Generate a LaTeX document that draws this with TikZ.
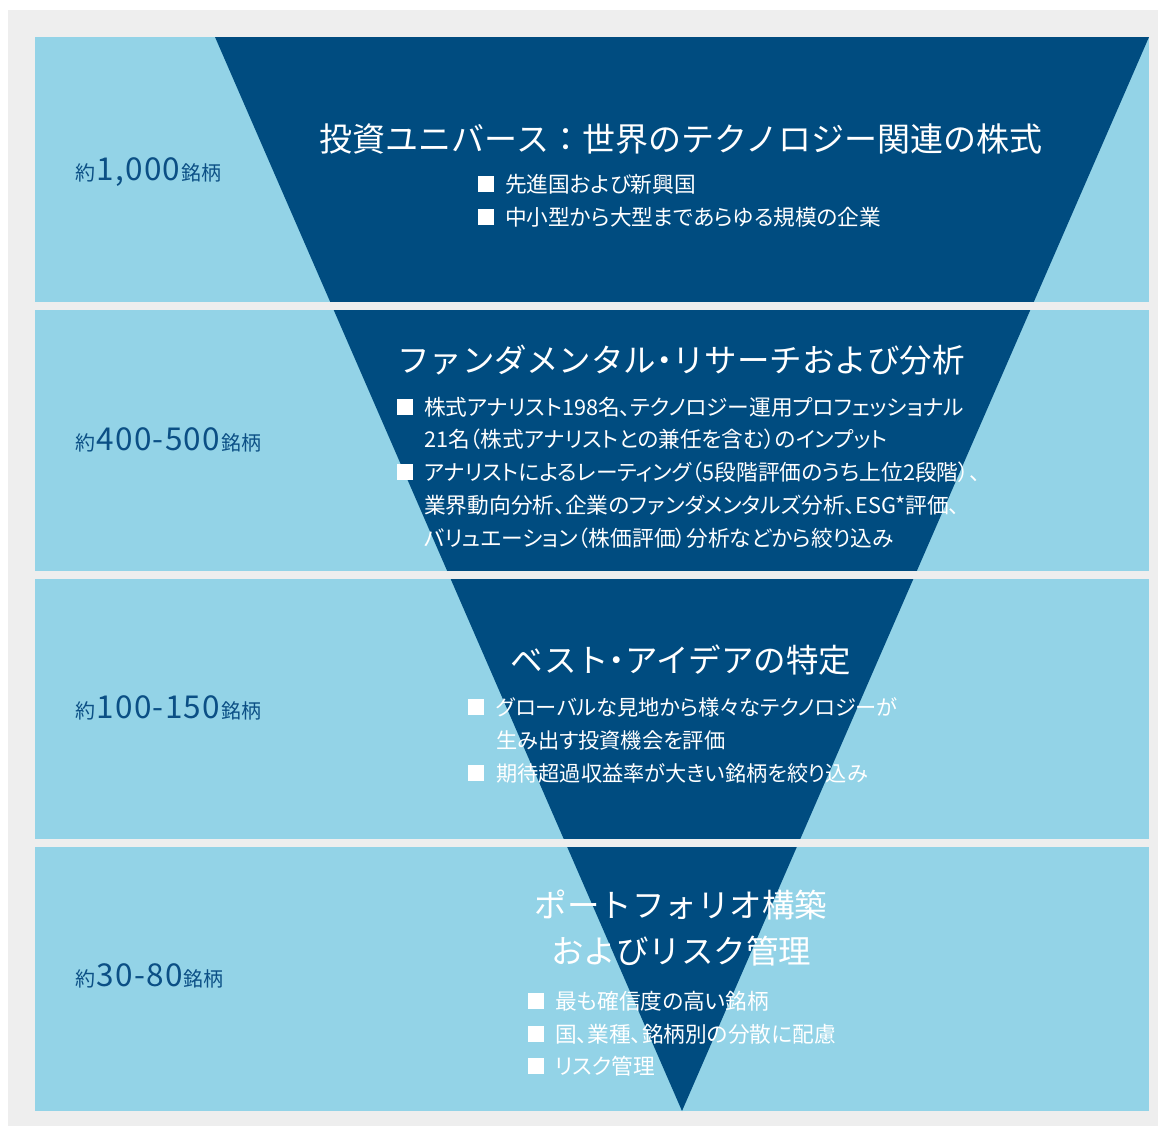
\documentclass[tikz,border=0pt]{standalone}
\usepackage{fontspec}
\setmainfont{Noto Sans CJK JP}
\newfontfamily\paltfont[RawFeature={+palt}]{Noto Sans CJK JP}
\newfontfamily\numfont[LetterSpace=4]{Noto Sans CJK JP}
\definecolor{panelgray}{HTML}{EEEEEE}
\definecolor{lightband}{HTML}{93D3E7}
\definecolor{darktri}{HTML}{004C80}
\definecolor{labelblue}{HTML}{0B4F85}
\tikzset{
  titletext/.style={text=white, inner sep=0pt, font=\fontsize{32.5}{46}\selectfont, text height=28.6pt, text depth=3.9pt},
  bigtitle/.style={titletext, font=\fontsize{33}{46}\selectfont, text height=29pt, text depth=4pt},
  bullettext/.style={text=white, inner sep=0pt, anchor=west, font=\paltfont\fontsize{21.7}{33}\selectfont, text height=19.1pt, text depth=2.6pt},
  bullettextsm/.style={bullettext, font=\paltfont\fontsize{21.2}{33}\selectfont, text height=18.7pt, text depth=2.5pt},
  sq/.style={fill=white, inner sep=0pt, minimum size=16pt, draw=none},
  countlabel/.style={text=labelblue, inner sep=0pt, anchor=base west},
}
\newcommand{\smallk}[1]{{\fontsize{20}{24}\selectfont #1}}
\newcommand{\bignum}[1]{{\numfont\fontsize{31.5}{36}\selectfont #1}}
\newcommand{\pdot}{{\paltfont ・}}
\begin{document}
\begin{tikzpicture}[x=1pt,y=-1pt]
\useasboundingbox (0,0) rectangle (1165,1133);
\fill[white] (0,0) rectangle (1165,1133);
\fill[panelgray] (8,10) rectangle (1158,1126);
% bands
\fill[lightband] (35,37) rectangle (1149,1111);
% funnel
\fill[darktri] (215,37) -- (1149,37) -- (682,1111) -- cycle;
% gaps between bands
\fill[panelgray] (35,302) rectangle (1149,310);
\fill[panelgray] (35,571) rectangle (1149,579);
\fill[panelgray] (35,839) rectangle (1149,847);

% left count labels
\node[countlabel] (c1) at (75,180) {\smallk{約}\hspace{1.5pt}\bignum{1,000}\hspace{1pt}\smallk{銘柄}};
\node[countlabel] (c2) at (75,450) {\smallk{約}\hspace{1.5pt}\bignum{400-500}\hspace{1pt}\smallk{銘柄}};
\node[countlabel] (c3) at (75,718) {\smallk{約}\hspace{1.5pt}\bignum{100-150}\hspace{1pt}\smallk{銘柄}};
\node[countlabel] (c4) at (75,986) {\smallk{約}\hspace{1.5pt}\bignum{30-80}\hspace{1pt}\smallk{銘柄}};

% band 1
\node[bigtitle] (t1) at (681,139) {投資ユニバース：世界のテクノロジー関連の株式};
\node[sq] (s11) at (486,184) {};
\node[bullettext] (l11) at (505,184) {先進国および新興国};
\node[sq] (s12) at (486,217) {};
\node[bullettext] (l12) at (505,217) {中小型から大型まであらゆる規模の企業};

% band 2
\node[titletext] (t2) at (681,360) {ファンダメンタル\pdot リサーチおよび分析};
\node[sq] (s21) at (405,407) {};
\node[bullettext] (l21) at (424,407) {株式アナリスト198名、テクノロジー運用プロフェッショナル};
\node[bullettext] (l22) at (424,439) {21名（株式アナリストとの兼任を含む）のインプット};
\node[sq] (s22) at (405,472) {};
\node[bullettext] (l23) at (424,472) {アナリストによるレーティング（5段階評価のうち上位2段階）、};
\node[bullettext] (l24) at (424,505) {業界動向分析、企業のファンダメンタルズ分析、ESG*評価、};
\node[bullettext] (l25) at (424,538) {バリュエーション（株価評価）分析などから絞り込み};

% band 3
\node[titletext] (t3) at (681,660) {ベスト\pdot アイデアの特定};
\node[sq] (s31) at (476,707) {};
\node[bullettextsm] (l31) at (496,707) {グローバルな見地から様々なテクノロジーが};
\node[bullettextsm] (l32) at (496,740) {生み出す投資機会を評価};
\node[sq] (s32) at (476,773) {};
\node[bullettextsm] (l33) at (496,773) {期待超過収益率が大きい銘柄を絞り込み};

% band 4
\node[titletext] (t4a) at (681,905) {ポートフォリオ構築};
\node[titletext] (t4b) at (681,951) {およびリスク管理};
\node[sq] (s41) at (536,1001) {};
\node[bullettext] (l41) at (555,1001) {最も確信度の高い銘柄};
\node[sq] (s42) at (536,1034) {};
\node[bullettext] (l42) at (555,1034) {国、業種、銘柄別の分散に配慮};
\node[sq] (s43) at (536,1066) {};
\node[bullettext] (l43) at (555,1066) {リスク管理};
\end{tikzpicture}
\end{document}
